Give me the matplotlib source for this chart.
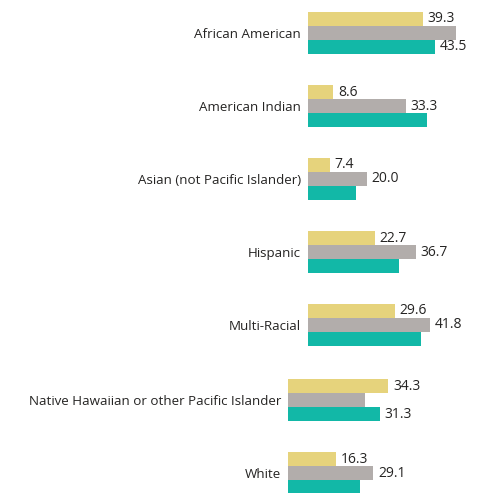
import matplotlib.pyplot as plt

plt.rcParams['font.family'] = ['Open Sans', 'DejaVu Sans']

top_groups = ["African American", "American Indian", "Asian (not Pacific Islander)",
              "Hispanic", "Multi-Racial"]
top_yellow = [39.3, 8.6, 7.4, 22.7, 29.6]
top_gray = [50.5, 33.3, 20.0, 36.7, 41.8]
top_teal = [43.5, 40.5, 16.3, 31.0, 38.6]
# which value gets a text label: 0 yellow, 1 gray, 2 teal
top_labelled = [(0, 2), (0, 1), (0, 1), (0, 1), (0, 1)]

bot_groups = ["Native Hawaiian or other Pacific Islander", "White"]
bot_yellow = [34.3, 16.3]
bot_gray = [26.2, 29.1]
bot_teal = [31.3, 24.7]
bot_labelled = [(0, 2), (0, 1)]

colors = ["#E6D37C", "#B2ADAB", "#12B8A7"]

W, H = 486, 493
PX_PER_UNIT = 2.93
STEP = 73.0
BAR_H = 14.0 / STEP

fig = plt.figure(figsize=(W / 100, H / 100), dpi=100)


def panel(left_px, first_center_px, ylim, groups, series, labelled):
    xmax = 60
    width_px = xmax * PX_PER_UNIT
    top_px = first_center_px + ylim[0] * STEP
    height_px = (ylim[1] - ylim[0]) * STEP
    ax = fig.add_axes([left_px / W, 1 - (top_px + height_px) / H,
                       width_px / W, height_px / H])
    ax.set_xlim(0, xmax)
    ax.set_ylim(ylim[1], ylim[0])
    for k, vals in enumerate(series):
        ys = [i + (k - 1) * BAR_H for i in range(len(groups))]
        ax.barh(ys, vals, height=BAR_H, color=colors[k], linewidth=0)
    for i, keys in enumerate(labelled):
        for k in keys:
            v = series[k][i]
            ax.text(v + 1.6, i + (k - 1) * BAR_H, f"{v:.1f}", va="center",
                    ha="left", fontsize=10, color="#252423")
    ax.set_yticks(range(len(groups)))
    ax.set_yticklabels(groups, fontsize=9.6, color="#252423")
    ax.tick_params(axis="y", length=0, pad=5)
    ax.set_xticks([])
    for s in ax.spines.values():
        s.set_visible(False)
    return ax


panel(308, 33, (-0.45, 4.5), top_groups, [top_yellow, top_gray, top_teal], top_labelled)
panel(288, 400, (-0.5, 1.27), bot_groups, [bot_yellow, bot_gray, bot_teal], bot_labelled)

fig.savefig("out.png", dpi=100)
